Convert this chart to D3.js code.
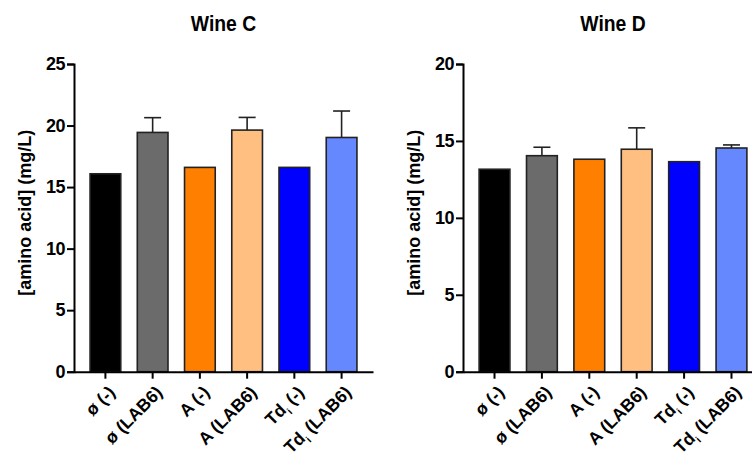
<!DOCTYPE html>
<html><head><meta charset="utf-8">
<script src="https://cdn.jsdelivr.net/npm/d3@7"></script>
<style>body{margin:0;background:#fff}svg{display:block}</style>
</head><body><svg id="c" width="752" height="452"></svg>
<script>
const categories = ["ø (-)", "ø (LAB6)", "A (-)", "A (LAB6)", "Td|i| (-)", "Td|i| (LAB6)"];
const colors = ["#000000", "#6b6b6b", "#ff8000", "#ffbf80", "#0000ff", "#6688ff"];
const wineCValues = [16.08, 19.44, 16.6, 19.63, 16.6, 19.03];
const wineCErrors = [0, 1.2, 0, 1.03, 0, 2.15];
const wineDValues = [13.16, 14.04, 13.81, 14.46, 13.65, 14.54];
const wineDErrors = [0, 0.55, 0, 1.39, 0, 0.2];
const wineCTicks = [0, 5, 10, 15, 20, 25];
const wineDTicks = [0, 5, 10, 15, 20];

const FONT = "'Liberation Sans',Arial,sans-serif";
const svg = d3.select("#c");

function panel(opts) {
  const g = svg.append("g");
  const x = d3.scaleBand().domain(categories).range([opts.x0, opts.x1]).paddingInner(0.35).paddingOuter(0.34);
  const y = d3.scaleLinear().domain([0, opts.max]).range([371.7, 64]);

  // title
  g.append("text")
    .attr("transform", `translate(${(opts.x0 + opts.x1) / 2},31) scale(0.86,1)`)
    .attr("text-anchor", "middle").attr("font-family", FONT).attr("font-weight", "bold")
    .attr("font-size", 22.5).text(opts.title);

  // bars
  g.selectAll("rect.bar").data(opts.values).join("rect")
    .attr("x", (d, i) => x(categories[i]))
    .attr("width", x.bandwidth())
    .attr("y", d => y(d))
    .attr("height", d => y(0) - y(d))
    .attr("fill", (d, i) => colors[i])
    .attr("stroke", "#222").attr("stroke-width", 1.6);

  // error bars
  opts.values.forEach((v, i) => {
    const e = opts.errors[i];
    if (!e) return;
    const cx = x(categories[i]) + x.bandwidth() / 2;
    g.append("line").attr("x1", cx).attr("x2", cx).attr("y1", y(v)).attr("y2", y(v + e))
      .attr("stroke", "#222").attr("stroke-width", 1.6);
    g.append("line").attr("x1", cx - 8.5).attr("x2", cx + 8.5).attr("y1", y(v + e)).attr("y2", y(v + e))
      .attr("stroke", "#222").attr("stroke-width", 1.6);
  });

  // y axis
  const ya = g.append("g").attr("transform", `translate(${opts.x0},0)`)
    .call(d3.axisLeft(y).tickValues(opts.ticks).tickSize(7).tickPadding(2));
  ya.select(".domain").attr("stroke", "#000").attr("stroke-width", 2);
  ya.selectAll(".tick line").attr("stroke", "#000").attr("stroke-width", 2);
  ya.selectAll(".tick text").attr("font-family", FONT).attr("font-weight", "bold")
    .attr("font-size", 18).attr("fill", "#000").attr("letter-spacing", -0.5);

  // x axis
  const xa = g.append("g").attr("transform", `translate(0,${y(0)})`)
    .call(d3.axisBottom(x).tickSize(7).tickSizeOuter(0).tickFormat(""));
  xa.select(".domain").attr("stroke", "#000").attr("stroke-width", 2);
  xa.selectAll(".tick line").attr("stroke", "#000").attr("stroke-width", 2);
  xa.selectAll(".tick").each(function(d) {
    const t = d3.select(this).append("text")
      .attr("transform", "translate(2,13) rotate(-45)")
      .attr("text-anchor", "end").attr("dy", "0.71em")
      .attr("font-family", FONT).attr("font-weight", "bold").attr("font-size", 17.5).attr("fill", "#000");
    const parts = d.split("|");
    t.append("tspan").text(parts[0]);
    if (parts.length > 1) {
      t.append("tspan").attr("font-size", 10).attr("dy", 5).text(parts[1]);
      t.append("tspan").attr("dy", -5).text(parts[2]);
    }
  });

  // y label
  g.append("text")
    .attr("transform", `translate(${opts.labelX},${(64 + 371.7) / 2 - 5}) rotate(-90)`)
    .attr("text-anchor", "middle").attr("dy", "0.35em")
    .attr("font-family", FONT).attr("font-weight", "bold").attr("font-size", 18)
    .text("[amino acid] (mg/L)");
}

panel({x0: 74, x1: 373, max: 25, ticks: wineCTicks, values: wineCValues, errors: wineCErrors, title: "Wine C", labelX: 25});
panel({x0: 463, x1: 763, max: 20, ticks: wineDTicks, values: wineDValues, errors: wineDErrors, title: "Wine D", labelX: 414});
</script></body></html>
